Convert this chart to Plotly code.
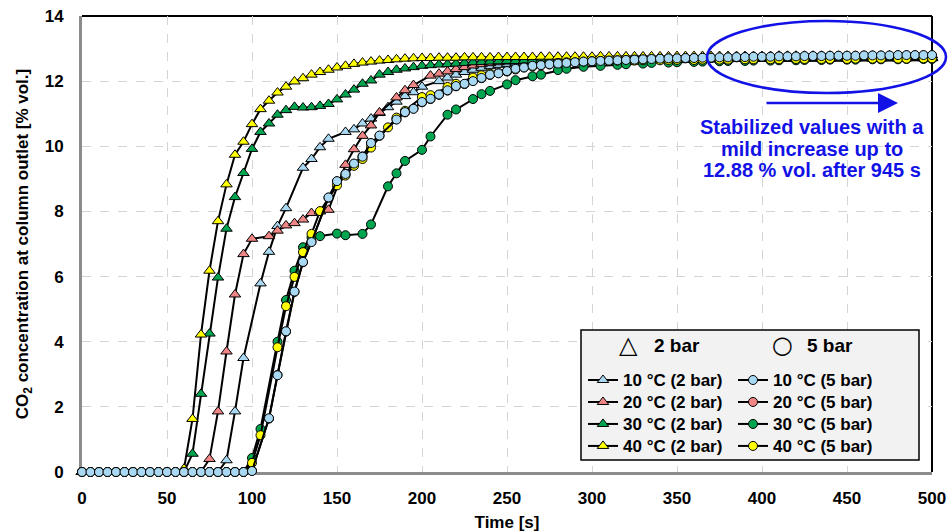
import plotly.graph_objects as go

# ---------------- data ----------------
time_s = [0, 5, 10, 15, 20, 25, 30, 35, 40, 45,
          50, 55, 60, 65, 70, 75, 80, 85, 90, 95,
          100, 105, 110, 115, 120, 125, 130, 135, 140, 145,
          150, 155, 160, 165, 170, 175, 180, 185, 190, 195,
          200, 205, 210, 215, 220, 225, 230, 235, 240, 245,
          250, 255, 260, 265, 270, 275, 280, 285, 290, 295,
          300, 305, 310, 315, 320, 325, 330, 335, 340, 345,
          350, 355, 360, 365, 370, 375, 380, 385, 390, 395,
          400, 405, 410, 415, 420, 425, 430, 435, 440, 445,
          450, 455, 460, 465, 470, 475, 480, 485, 490, 495,
          500]

N = None

t10_2bar = [0, 0, 0, 0, 0, 0, 0, 0, 0, 0,
            0, 0, 0, 0, 0, 0, 0, 0.36, 1.86, 3.50,
            N, 5.79, 6.76, 7.55, 8.10, N, 9.34, 9.61, 9.97, 10.23,
            N, 10.44, 10.52, 10.70, 10.85, 11.02, 11.20, 11.37, 11.54, 11.66,
            11.83, N, 12.00, 12.11, 12.20, 12.28, 12.35, 12.41, 12.46, 12.50,
            12.53, 12.56, 12.58, 12.60, 12.61, 12.62, 12.62, 12.63, 12.63, 12.64,
            12.64, 12.64, 12.65, 12.65, 12.65, 12.65, 12.66, 12.66, 12.66, 12.66,
            12.66, 12.67, 12.67, 12.67, 12.67, 12.67, 12.67, 12.68, 12.68, 12.68,
            12.68, 12.68, 12.68, 12.68, 12.69, 12.69, 12.69, 12.69, 12.69, 12.69,
            12.69, 12.70, 12.70, 12.70, 12.70, 12.70, 12.70, 12.70, 12.70, 12.70,
            12.70]

t20_2bar = [0, 0, 0, 0, 0, 0, 0, 0, 0, 0,
            0, 0, 0, 0, 0, 0.40, 1.86, 3.70, 5.45, 6.69,
            7.16, N, 7.24, 7.41, 7.57, 7.64, 7.75, 7.95, 8.00, 8.05,
            N, 9.43, 9.91, 10.32, 10.64, 11.04, N, 11.50, 11.72, 11.88,
            N, 12.17, 12.23, 12.30, 12.37, 12.43, 12.48, 12.52, 12.55, 12.58,
            12.60, 12.61, 12.62, 12.63, 12.64, 12.64, 12.65, 12.65, 12.66, 12.66,
            12.66, 12.67, 12.67, 12.67, 12.67, 12.68, 12.68, 12.68, 12.68, 12.68,
            12.68, 12.69, 12.69, 12.69, 12.69, 12.69, 12.70, 12.70, 12.70, 12.70,
            12.70, 12.70, 12.70, 12.71, 12.71, 12.71, 12.71, 12.71, 12.71, 12.71,
            12.71, 12.71, 12.72, 12.72, 12.72, 12.72, 12.72, 12.72, 12.72, 12.72,
            12.72]

t30_2bar = [0, 0, 0, 0, 0, 0, 0, 0, 0, 0,
            0, 0, 0, 0.56, 2.40, 4.25, 5.97, 7.47, 8.44, 9.18,
            9.92, 10.44, 10.70, 10.97, 11.11, 11.21, 11.19, 11.20, 11.24, 11.30,
            11.44, 11.59, 11.74, 11.92, 12.02, 12.20, 12.28, 12.35, 12.39, 12.43,
            12.47, 12.49, 12.51, 12.52, 12.54, 12.56, 12.58, 12.59, 12.60, 12.61,
            12.62, 12.62, 12.63, 12.63, 12.64, 12.64, 12.64, 12.65, 12.65, 12.65,
            12.65, 12.66, 12.66, 12.66, 12.66, 12.66, 12.67, 12.67, 12.67, 12.67,
            12.67, 12.67, 12.68, 12.68, 12.68, 12.68, 12.68, 12.68, 12.69, 12.69,
            12.69, 12.69, 12.69, 12.69, 12.69, 12.69, 12.69, 12.70, 12.70, 12.70,
            12.70, 12.70, 12.70, 12.70, 12.70, 12.70, 12.71, 12.71, 12.71, 12.71,
            12.71]

t40_2bar = [0, 0, 0, 0, 0, 0, 0, 0, 0, 0,
            0, 0, 0.10, 1.63, 4.22, 6.18, 7.70, 8.83, 9.74, 10.14,
            10.68, 11.14, 11.40, 11.65, 11.83, 11.99, 12.09, 12.20, 12.28, 12.35,
            12.42, 12.47, 12.53, 12.57, 12.60, 12.63, 12.65, 12.67, 12.69, 12.70,
            12.71, 12.71, 12.72, 12.72, 12.72, 12.73, 12.73, 12.73, 12.73, 12.74,
            12.74, 12.74, 12.74, 12.74, 12.75, 12.75, 12.75, 12.75, 12.75, 12.75,
            12.75, 12.76, 12.76, 12.76, 12.76, 12.76, 12.76, 12.76, 12.76, 12.76,
            12.77, 12.77, 12.77, 12.77, 12.77, 12.77, 12.77, 12.77, 12.77, 12.77,
            12.77, 12.77, 12.78, 12.78, 12.78, 12.78, 12.78, 12.78, 12.78, 12.78,
            12.78, 12.78, 12.78, 12.78, 12.78, 12.79, 12.79, 12.79, 12.79, 12.79,
            12.79]

t10_5bar = [0, 0, 0, 0, 0, 0, 0, 0, 0, 0,
            0, 0, 0, 0, 0, 0, 0, 0, 0, 0,
            0.03, N, 1.65, 2.97, 4.32, 5.54, 6.45, 7.06, N, 8.43,
            8.93, 9.15, 9.47, 9.68, 10.10, 10.33, N, 10.82, 11.05, 11.15,
            11.36, 11.46, 11.59, 11.72, 11.85, 11.92, 12.00, 12.10, 12.20, 12.24,
            12.31, 12.38, 12.42, 12.47, 12.49, 12.52, 12.54, 12.56, 12.58, 12.60,
            12.61, 12.62, 12.63, 12.64, 12.65, 12.66, 12.67, 12.68, 12.69, 12.70,
            12.70, 12.71, 12.71, 12.72, 12.72, 12.73, 12.73, 12.74, 12.74, 12.75,
            12.75, 12.75, 12.76, 12.76, 12.76, 12.77, 12.77, 12.77, 12.78, 12.78,
            12.78, 12.78, 12.79, 12.79, 12.79, 12.79, 12.80, 12.80, 12.80, 12.80,
            12.80]

t20_5bar = [0, 0, 0, 0, 0, 0, 0, 0, 0, 0,
            0, 0, 0, 0, 0, 0, 0, 0, 0, 0,
            0.04, N, 1.64, 2.98, 4.31, 5.53, 6.44, 7.07, N, 8.42,
            8.92, 9.16, 9.46, 9.69, 10.09, 10.32, N, 10.83, 11.04, 11.16,
            11.35, 11.45, 11.58, 11.71, 11.84, 11.91, 12.01, 12.09, 12.19, 12.25,
            12.30, 12.37, 12.42, 12.46, 12.49, 12.51, 12.54, 12.56, 12.58, 12.59,
            12.61, 12.62, 12.63, 12.64, 12.65, 12.66, 12.66, 12.67, 12.68, 12.69,
            12.69, 12.70, 12.70, 12.71, 12.71, 12.72, 12.72, 12.73, 12.73, 12.74,
            12.74, 12.74, 12.75, 12.75, 12.75, 12.76, 12.76, 12.76, 12.77, 12.77,
            12.77, 12.77, 12.78, 12.78, 12.78, 12.78, 12.79, 12.79, 12.79, 12.79,
            12.79]

t30_5bar = [0, 0, 0, 0, 0, 0, 0, 0, 0, 0,
            0, 0, 0, 0, 0, 0, 0, 0, 0, 0,
            0.43, 1.32, N, 4.00, 5.28, 6.18, 6.90, 7.20, 7.24, N,
            7.32, 7.27, N, 7.31, 7.60, N, 8.77, 9.17, 9.55, N,
            9.89, 10.30, N, 10.97, 11.13, N, 11.45, 11.60, 11.70, N,
            11.90, 12.03, N, 12.15, 12.20, N, 12.34, 12.38, N, 12.44,
            N, 12.47, N, 12.50, 12.52, N, 12.54, 12.56, N, 12.57,
            12.58, N, 12.59, 12.60, N, 12.61, 12.62, N, 12.62, 12.63,
            N, 12.63, 12.64, N, 12.64, 12.65, N, 12.65, 12.66, N,
            12.66, 12.66, N, 12.67, 12.67, N, 12.67, 12.68, N, 12.68,
            12.68]

t40_5bar = [0, 0, 0, 0, 0, 0, 0, 0, 0, 0,
            0, 0, 0, 0, 0, 0, 0, 0, 0, 0,
            0.28, 1.13, N, 3.83, 5.09, 5.99, 6.75, 7.31, 8.01, N,
            8.80, 9.10, 9.40, 9.61, 9.96, N, 10.58, 10.88, 11.09, N,
            11.51, 11.57, N, 11.82, 11.92, N, 12.11, 12.18, 12.23, N,
            12.30, 12.36, N, 12.45, 12.50, N, 12.56, 12.58, N, 12.60,
            12.61, N, 12.62, 12.63, N, 12.63, 12.64, N, 12.64, 12.65,
            12.65, N, 12.65, 12.66, N, 12.66, 12.66, N, 12.67, 12.67,
            N, 12.67, 12.67, N, 12.68, 12.68, N, 12.68, 12.68, N,
            12.68, 12.69, N, 12.69, 12.69, N, 12.69, 12.69, N, 12.70,
            12.70]

x_ticks = [0, 50, 100, 150, 200, 250, 300, 350, 400, 450, 500]
y_ticks = [0, 2, 4, 6, 8, 10, 12, 14]

for s in (t10_2bar, t20_2bar, t30_2bar, t40_2bar, t10_5bar, t20_5bar, t30_5bar, t40_5bar):
    assert len(s) == len(time_s)

# ---------------- styling ----------------
FONT = "Liberation Sans, Arial, sans-serif"
LB = "#a9d9f2"
RED = "#f08585"
GREEN = "#00a550"
YEL = "#ffff00"
BLUE = "#1212e6"

W, H = 948, 532
ML, MR, MT, MB = 82, 16, 16, 60
PX0, PX1, PY0, PY1 = 82, 932, 16, 472


def px(x):
    return (x - PX0) / (PX1 - PX0)


def py(y):
    return (PY1 - y) / (PY1 - PY0)


fig = go.Figure()

series = [
    # (name, data, color, symbol, legend, rank)
    ("10 °C (2 bar)", t10_2bar, LB, "triangle-up", "legend", 1),
    ("20 °C (2 bar)", t20_2bar, RED, "triangle-up", "legend", 2),
    ("30 °C (2 bar)", t30_2bar, GREEN, "triangle-up", "legend", 3),
    ("40 °C (2 bar)", t40_2bar, YEL, "triangle-up", "legend", 4),
    ("20 °C (5 bar)", t20_5bar, RED, "circle", "legend2", 2),
    ("30 °C (5 bar)", t30_5bar, GREEN, "circle", "legend2", 3),
    ("40 °C (5 bar)", t40_5bar, YEL, "circle", "legend2", 4),
    ("10 °C (5 bar)", t10_5bar, LB, "circle", "legend2", 1),
]

for name, data, col, sym, leg, rank in series:
    fig.add_trace(go.Scatter(
        x=time_s, y=data, mode="lines+markers", connectgaps=True,
        name='<span style="font-size:17px">' + name + "</span>",
        legend=leg, legendrank=rank, cliponaxis=False,
        line=dict(color="black", width=2),
        marker=dict(symbol=sym, size=10 if sym == "triangle-up" else 9,
                    color=col, line=dict(color="black", width=1)),
        hoverinfo="x+y",
    ))

axis_common = dict(
    showgrid=True, gridcolor="#d4d4d4", gridwidth=1, griddash="dash",
    showline=True, linecolor="#8c8c8c", linewidth=3, mirror=False,
    zeroline=False, ticks="", layer="below traces", ticklabeloverflow="allow",
    tickfont=dict(family=FONT, size=17, color="black", weight="bold"),
)

fig.update_xaxes(range=[0, 500], tickvals=x_ticks, ticklabelstandoff=9,
                 title=dict(text="Time [s]", standoff=10,
                            font=dict(family=FONT, size=17, color="black", weight="bold")),
                 **axis_common)
fig.update_yaxes(range=[0, 14], tickvals=y_ticks, ticklabelstandoff=12,
                 title=dict(text="CO<sub>2</sub> concentration at column outlet [% vol.]", standoff=12,
                            font=dict(family=FONT, size=17, color="black", weight="bold")),
                 **axis_common)

shapes = [
    # plot frame top & right (black)
    dict(type="line", xref="paper", yref="paper", x0=0, x1=1, y0=1, y1=1,
         line=dict(color="black", width=2), layer="between"),
    dict(type="line", xref="paper", yref="paper", x0=1, x1=1, y0=0, y1=1,
         line=dict(color="black", width=2), layer="between"),
    # legend box
    dict(type="rect", xref="paper", yref="paper", x0=px(581), x1=px(919), y0=py(460), y1=py(330),
         fillcolor="#f2f2f2", line=dict(color="black", width=1.5), layer="above"),
    # ellipse highlighting plateau
    dict(type="circle", xref="paper", yref="paper", x0=px(707), x1=px(946), y0=py(93), y1=py(21),
         line=dict(color=BLUE, width=2.5), layer="above"),
]

annotations = [
    dict(xref="paper", yref="paper", x=px(628), y=py(345), text="△", showarrow=False,
         xanchor="center", yanchor="middle",
         font=dict(family="DejaVu Sans", size=24, color="black")),
    dict(xref="paper", yref="paper", x=px(677), y=py(345), text="2 bar", showarrow=False,
         xanchor="center", yanchor="middle",
         font=dict(family=FONT, size=19, color="black", weight="bold")),
    dict(xref="paper", yref="paper", x=px(782), y=py(345), text="○", showarrow=False,
         xanchor="center", yanchor="middle",
         font=dict(family="DejaVu Sans", size=24, color="black")),
    dict(xref="paper", yref="paper", x=px(830), y=py(345), text="5 bar", showarrow=False,
         xanchor="center", yanchor="middle",
         font=dict(family=FONT, size=19, color="black", weight="bold")),
    # arrow
    dict(xref="paper", yref="paper", x=px(898), y=py(103), ax=-133, ay=0, text="",
         showarrow=True, arrowhead=2, arrowsize=1.6, arrowwidth=2.5, arrowcolor=BLUE),
]
note_lines = ["Stabilized values with a", "mild increase up to", "12.88 % vol. after 945 s"]
for i, line in enumerate(note_lines):
    annotations.append(dict(xref="paper", yref="paper", x=px(812), y=py(127 + 21.7 * i),
                            text=line, showarrow=False, xanchor="center", yanchor="middle",
                            font=dict(family=FONT, size=20, color=BLUE, weight="bold")))

legend_common = dict(
    xanchor="left", yanchor="top", bgcolor="rgba(0,0,0,0)", borderwidth=0,
    font=dict(family=FONT, size=14.6, color="black", weight="bold"),
    tracegroupgap=0, itemclick=False, itemdoubleclick=False,
)

fig.update_layout(
    width=W, height=H,
    margin=dict(l=ML, r=MR, t=MT, b=MB, autoexpand=False),
    paper_bgcolor="white", plot_bgcolor="white",
    showlegend=True,
    legend=dict(x=px(583), y=py(364), **legend_common),
    legend2=dict(x=px(733), y=py(364), **legend_common),
    shapes=shapes, annotations=annotations,
    font=dict(family=FONT, color="black"),
)

fig.write_html(
    "out.html",
    config={"displayModeBar": False},
    post_script="document.body.style.margin='0';document.body.style.overflow='hidden';",
)
